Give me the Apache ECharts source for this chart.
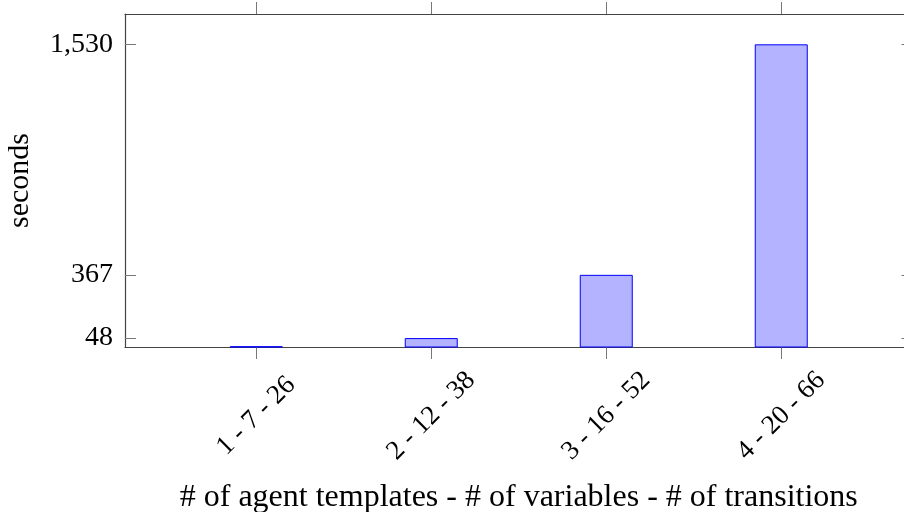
<!DOCTYPE html>
<html>
<head>
<meta charset="utf-8">
<script src="https://cdn.jsdelivr.net/npm/echarts@6/dist/echarts.min.js"></script>
<style>
  html, body { margin: 0; padding: 0; background: #fff; }
  #main { width: 904px; height: 512px; }
</style>
</head>
<body>
<div id="main"></div>
<script>
// data
var categories = ["1 - 7 - 26", "2 - 12 - 38", "3 - 16 - 52", "4 - 20 - 66"];
var seconds = [7, 48, 367, 1530];
var yTicks = [48, 367, 1530];
var xTicks = [0, 1, 2, 3];

var font = "Liberation Serif";
var myChart = echarts.init(document.getElementById("main"));

var barData = [];
for (var i = 0; i < seconds.length; i++) {
  barData.push([i, seconds[i]]);
}

function fmt(v) {
  return String(v).replace(/\B(?=(\d{3})+(?!\d))/g, ",");
}

var lineStyle = { color: "#444", width: 1.2 };
var tickStyle = { color: "#777" };

myChart.setOption({
  animation: false,
  grid: { left: 125, top: 14, width: 787.5, height: 333, containLabel: false, outerBoundsMode: "none" },
  xAxis: [
    {
      type: "value",
      position: "bottom",
      min: -0.75,
      max: 3.75,
      name: "# of agent templates - # of variables - # of transitions",
      nameLocation: "middle",
      nameGap: 151,
      nameTextStyle: { fontFamily: font, fontSize: 32, color: "#000", verticalAlign: "middle" },
      axisLine: { show: true, onZero: false, lineStyle: lineStyle },
      axisTick: { show: true, customValues: xTicks, length: 12, inside: false, lineStyle: tickStyle },
      axisLabel: {
        customValues: xTicks,
        formatter: function (v) { return categories[v]; },
        rotate: 45,
        align: "center",
        verticalAlign: "middle",
        margin: 69,
        fontFamily: font,
        fontSize: 27,
        color: "#000"
      },
      splitLine: { show: false }
    },
    {
      type: "value",
      position: "top",
      min: -0.75,
      max: 3.75,
      axisLine: { show: true, onZero: false, lineStyle: lineStyle },
      axisTick: { show: true, customValues: xTicks, length: 12, inside: false, lineStyle: tickStyle },
      axisLabel: { show: false },
      splitLine: { show: false }
    }
  ],
  yAxis: [
    {
      type: "value",
      position: "left",
      min: 3,
      max: 1683,
      name: "seconds",
      nameLocation: "middle",
      nameGap: 105,
      nameTextStyle: { fontFamily: font, fontSize: 30, color: "#000", verticalAlign: "middle" },
      axisLine: { show: true, onZero: false, lineStyle: lineStyle },
      axisTick: { show: true, customValues: yTicks, length: 11, inside: true, lineStyle: tickStyle },
      axisLabel: {
        customValues: yTicks,
        formatter: function (v) { return fmt(v); },
        margin: 12,
        fontFamily: font,
        fontSize: 28,
        color: "#000"
      },
      splitLine: { show: false }
    },
    {
      type: "value",
      position: "right",
      min: 3,
      max: 1683,
      axisLine: { show: true, onZero: false, lineStyle: lineStyle },
      axisTick: { show: true, customValues: yTicks, length: 11, inside: true, lineStyle: tickStyle },
      axisLabel: { show: false },
      splitLine: { show: false }
    }
  ],
  series: [
    {
      type: "bar",
      xAxisIndex: 0,
      yAxisIndex: 0,
      data: barData,
      barWidth: 53,
      itemStyle: { color: "#b3b3ff", borderColor: "#0000ff", borderWidth: 1 }
    }
  ]
});
</script>
</body>
</html>
